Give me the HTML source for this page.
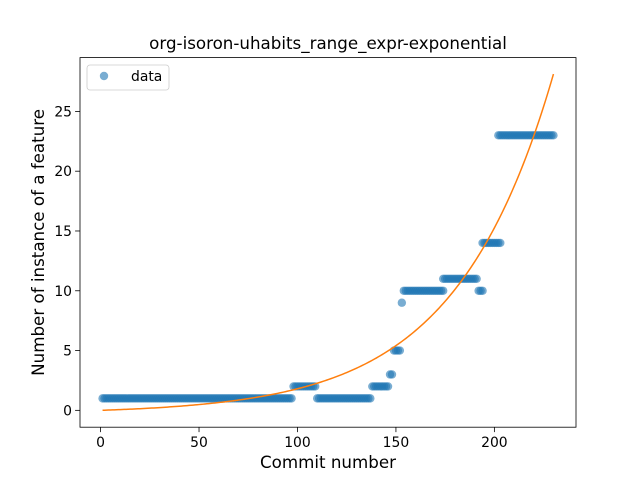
<!DOCTYPE html>
<html><head><meta charset="utf-8"><style>body{margin:0;background:#fff}svg{display:block;font-family:"DejaVu Sans","Liberation Sans",sans-serif}</style></head>
<body>
<svg id="c" width="640" height="480" xmlns="http://www.w3.org/2000/svg"></svg>
<script>
const segStart=[1,98,110,138,147,149,153,154,174,192,194,202];
const segEnd=[97,109,137,146,148,152,153,174,191,194,203,230];
const segValue=[1,2,1,2,3,5,9,10,11,10,14,23];
const fitA=0.279, fitB=0.0201;
const xTicks=[0,50,100,150,200];
const yTicks=[0,5,10,15,20,25];
const L=80,R=576,T=57.6,B=427.2;
const xmin=-10.45,xmax=241.45,ymin=-1.41,ymax=29.5;
const sx=v=>L+(v-xmin)/(xmax-xmin)*(R-L);
const sy=v=>B-(v-ymin)/(ymax-ymin)*(B-T);
const svg=document.getElementById('c');const NS='http://www.w3.org/2000/svg';
function mk(t,a,p){const e=document.createElementNS(NS,t);for(const k in a)e.setAttribute(k,a[k]);(p||svg).appendChild(e);return e;}
const pts=mk('g',{});


for(let s=0;s<segStart.length;s++)for(let x=segStart[s];x<=segEnd[s];x++){
 const c=mk('circle',{cx:sx(x),cy:sy(segValue[s]),r:4.2,fill:'#1f77b4','fill-opacity':0.6},pts);
 
 
}
let d='';for(let x=1;x<=230;x++){d+=(x==1?'M':'L')+sx(x).toFixed(2)+','+sy(fitA*(Math.exp(fitB*x)-1)).toFixed(2);}
const fl=mk('path',{d:d,fill:'none',stroke:'#ff7f0e','stroke-width':1.5});


const fr=mk('rect',{x:L,y:T,width:R-L,height:B-T,fill:'none',stroke:'#000','stroke-width':0.8});


xTicks.forEach(v=>{const x=sx(v);mk('line',{x1:x,x2:x,y1:B,y2:B+4.9,stroke:'#000','stroke-width':0.8});
 const t=mk('text',{x:x,y:B+20,'text-anchor':'middle','font-size':13.9});t.textContent=v;
 
 });
yTicks.forEach(v=>{const y=sy(v);mk('line',{x1:L,x2:L-4.9,y1:y,y2:y,stroke:'#000','stroke-width':0.8});
 const t=mk('text',{x:L-8,y:y+5,'text-anchor':'end','font-size':13.9});t.textContent=v;
 
 });
let t=mk('text',{x:(L+R)/2,y:468,'text-anchor':'middle','font-size':16.7});t.textContent='Commit number';


t=mk('text',{x:44,y:(T+B)/2,'text-anchor':'middle','font-size':16.7,transform:'rotate(-90 44 '+(T+B)/2+')'});t.textContent='Number of instance of a feature';


t=mk('text',{x:(L+R)/2,y:49,'text-anchor':'middle','font-size':16.7});t.textContent='org-isoron-uhabits_range_expr-exponential';


const lg=mk('g',{});


mk('rect',{x:87,y:65,width:82,height:25,rx:3,fill:'#fff',stroke:'#ccc','stroke-width':0.8},lg);
mk('circle',{cx:104,cy:76,r:4.2,fill:'#1f77b4','fill-opacity':0.6},lg);
t=mk('text',{x:131,y:81,'font-size':13.9},lg);t.textContent='data';


</script>
</body></html>
